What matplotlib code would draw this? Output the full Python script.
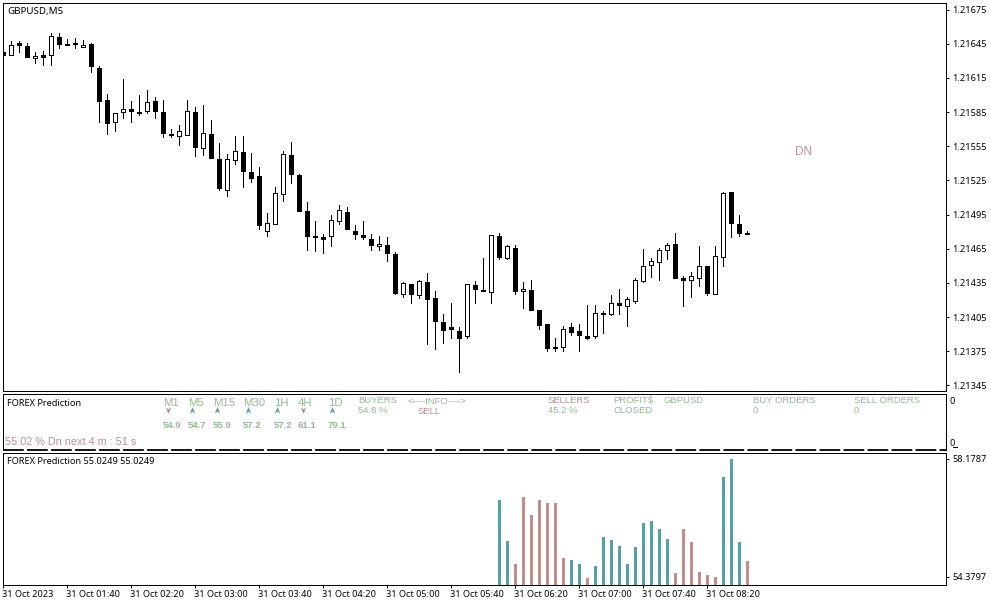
import matplotlib
matplotlib.use('Agg')
import matplotlib.pyplot as plt
from matplotlib.lines import Line2D
from matplotlib.patches import Rectangle
from matplotlib.transforms import ScaledTranslation

plt.rcParams['font.family'] = ['Noto Sans', 'DejaVu Sans']

W, H = 991, 605

# candles, one row per bar, in price points (1/100000)
opens = [121638, 121635, 121646, 121643, 121632, 121635, 121635, 121651, 121645, 121646,
         121642, 121645, 121624, 121596, 121576, 121585, 121588, 121585, 121586, 121595,
         121585, 121566, 121564, 121565, 121585, 121553, 121566, 121544, 121517, 121543,
         121550, 121532, 121529, 121481, 121487, 121513, 121547, 121530, 121498, 121476,
         121475, 121476, 121489, 121497, 121481, 121477, 121474, 121467, 121468, 121460,
         121425, 121434, 121424, 121436, 121422, 121401, 121396, 121393, 121388, 121433,
         121429, 121427, 121476, 121457, 121466, 121428, 121429, 121411, 121399, 121379,
         121379, 121396, 121393, 121388, 121388, 121409, 121408, 121417, 121415, 121419,
         121437, 121451, 121453, 121464, 121469, 121439, 121438, 121439, 121450, 121425,
         121458, 121515, 121487, 121479]
closes = [121635, 121644, 121644, 121633, 121634, 121633, 121652, 121645, 121644, 121645,
          121644, 121625, 121595, 121575, 121584, 121588, 121586, 121584, 121594, 121586,
          121567, 121565, 121568, 121586, 121554, 121567, 121545, 121518, 121544, 121551,
          121533, 121527, 121486, 121488, 121514, 121548, 121531, 121498, 121476, 121475,
          121474, 121490, 121499, 121482, 121478, 121475, 121468, 121469, 121461, 121426,
          121435, 121425, 121437, 121421, 121402, 121394, 121395, 121387, 121434, 121430,
          121428, 121477, 121458, 121467, 121428, 121430, 121411, 121398, 121378, 121378,
          121395, 121392, 121389, 121387, 121409, 121408, 121417, 121416, 121421, 121438,
          121450, 121454, 121464, 121468, 121439, 121438, 121441, 121450, 121426, 121459,
          121514, 121488, 121479, 121478]
highs = [121663, 121647, 121647, 121646, 121638, 121639, 121654, 121654, 121649, 121650,
         121648, 121646, 121625, 121601, 121584, 121614, 121595, 121600, 121604, 121598,
         121596, 121570, 121574, 121596, 121589, 121591, 121578, 121558, 121548, 121564,
         121564, 121549, 121537, 121496, 121519, 121551, 121559, 121531, 121506, 121489,
         121478, 121495, 121503, 121502, 121486, 121489, 121478, 121476, 121475, 121462,
         121436, 121434, 121438, 121444, 121428, 121408, 121417, 121396, 121434, 121437,
         121457, 121477, 121479, 121468, 121468, 121436, 121438, 121411, 121399, 121387,
         121397, 121400, 121399, 121416, 121416, 121410, 121424, 121430, 121423, 121439,
         121465, 121457, 121466, 121470, 121479, 121441, 121445, 121467, 121450, 121467,
         121515, 121515, 121495, 121481]
lows = [121635, 121635, 121638, 121633, 121628, 121626, 121626, 121641, 121644, 121641,
        121642, 121620, 121576, 121566, 121568, 121580, 121576, 121582, 121584, 121580,
        121563, 121563, 121556, 121565, 121546, 121547, 121545, 121517, 121511, 121539,
        121519, 121524, 121482, 121476, 121487, 121507, 121523, 121498, 121464, 121463,
        121461, 121467, 121487, 121482, 121474, 121474, 121464, 121464, 121454, 121425,
        121423, 121417, 121422, 121381, 121377, 121382, 121387, 121357, 121387, 121417,
        121428, 121417, 121456, 121456, 121425, 121413, 121411, 121395, 121375, 121375,
        121375, 121389, 121375, 121386, 121387, 121391, 121407, 121408, 121397, 121417,
        121436, 121440, 121438, 121456, 121439, 121415, 121423, 121432, 121424, 121425,
        121450, 121475, 121476, 121478]

# FOREX Prediction histogram, starts at bar 62
hist_start = 62
hist_values = [56.859, 55.539, 54.798, 56.955, 56.376, 56.859, 56.762, 56.762,
               54.991, 54.927, 54.798, 54.347, 54.734, 55.667, 55.571, 55.378,
               54.798, 55.346, 56.118, 56.183, 55.925, 55.603, 54.508, 55.925,
               55.506, 54.541, 54.444, 54.380, 57.599, 58.179, 55.506, 54.895]
hist_up = [1, 1, 0, 0, 0, 0, 0, 0, 0, 1, 1, 0, 1, 1, 1, 1,
           1, 1, 1, 1, 1, 1, 0, 0, 0, 0, 0, 0, 1, 1, 1, 0]

price_ticks = [1.21675, 1.21645, 1.21615, 1.21585, 1.21555, 1.21525,
               1.21495, 1.21465, 1.21435, 1.21405, 1.21375, 1.21345]
time_labels = ['31 Oct 2023', '31 Oct 01:40', '31 Oct 02:20', '31 Oct 03:00',
               '31 Oct 03:40', '31 Oct 04:20', '31 Oct 05:00', '31 Oct 05:40',
               '31 Oct 06:20', '31 Oct 07:00', '31 Oct 07:40', '31 Oct 08:20']

tf_names = ['M1', 'M5', 'M15', 'M30', '1H', '4H', '1D']
tf_values = ['54.9', '54.7', '55.9', '57.2', '57.2', '61.1', '79.1']
tf_up = [0, 1, 1, 1, 1, 0, 1]

GREEN = '#8FBC8F'
ROSY = '#BC8F8F'
TEAL = '#5F9EA0'
BAR_SPACING = 8
PX = 0.72  # one pixel in points at dpi 100
TEXT_FONT = 'Liberation Sans'
ARROW = [(0, 1), (0.8, -0.9), (0, -0.35), (-0.8, -0.9)]
FIRST_BAR = 3.2


def pane(left, top, right, bottom):
    ax = fig.add_axes([left / W, 1 - bottom / H, (right - left) / W, (bottom - top) / H])
    for s in ax.spines.values():
        s.set_linewidth(PX)
        s.set_color('black')
    # same x scale in every pane
    ax.set_xlim((left - FIRST_BAR) / BAR_SPACING, (right - FIRST_BAR) / BAR_SPACING)
    ax.yaxis.tick_right()
    ax.tick_params(axis='y', length=2.2, width=PX, pad=2.6, labelsize=6.6)
    ax.set_xticks([])
    return ax


def label(x, y, s, color=GREEN, size=6.8, **kw):
    # va center sits about a pixel high for text without descenders
    fig.text(x / W, 1 - (y + 1) / H, s, color=color, fontsize=size, va='center',
             family=kw.pop('family', TEXT_FONT), **kw)


fig = plt.figure(figsize=(W / 100, H / 100), dpi=100)

# price pane
ax = pane(2.5, 2.5, 945.5, 390.5)
to_price = lambda y: 1.21675 - (y - 9.5) * 0.0003 / 34.18
ax.set_ylim(to_price(390.5), to_price(2.5))
ax.set_yticks(price_ticks)
ax.set_yticklabels(['%.5f' % p for p in price_ticks])
for i in range(len(opens)):
    o, c = opens[i] / 1e5, closes[i] / 1e5
    up = c > o
    ax.vlines(i, lows[i] / 1e5, highs[i] / 1e5, color='black', lw=PX, zorder=2, antialiased=False)
    ax.add_patch(Rectangle((i - 2 / BAR_SPACING, min(o, c)), 4 / BAR_SPACING, abs(c - o),
                           facecolor='white' if up else 'black', edgecolor='black', lw=PX,
                           zorder=3, antialiased=False))

# indicator panel with the text block
ax2 = pane(2.5, 393.5, 945.5, 450)
ax2.spines['bottom'].set_visible(False)
ax2.set_ylim(-0.1, 1)
ax2.set_yticks([])
ax2.axhline(-0.1, color='black', lw=1.3, dashes=(11.5, 1.8), clip_on=False)

# histogram pane
ax3 = pane(2.5, 452.5, 945.5, 584.5)
to_val = lambda y: 58.1787 - (y - 459) * 3.799 / 118
ax3.set_ylim(to_val(584.5), to_val(452.5))
ax3.set_yticks([58.1787, 54.3797])
ax3.set_yticklabels(['58.1787', '54.3797'])
xs = [hist_start + i for i in range(len(hist_values))]
cols = [TEAL if u else ROSY for u in hist_up]
ax3.bar(xs, hist_values, width=3 / BAR_SPACING, color=cols, linewidth=0, antialiased=False)
ax3.set_xticks(range(0, 96, 8))
ax3.set_xticklabels(time_labels, ha='left')
ax3.tick_params(axis='x', length=2.2, width=PX, pad=1.5, labelsize=6.6)
for t in ax3.get_xticklabels():
    t.set_transform(t.get_transform() + ScaledTranslation(-1.5 / 100, 0, fig.dpi_scale_trans))

# titles
label(7, 10.5, 'GBPUSD,M5', color='black', size=7, family='Noto Sans')
label(7, 402.7, 'FOREX Prediction', color='black', size=6.6, family='Noto Sans')
label(7, 460.7, 'FOREX Prediction 55.0249 55.0249', color='black', size=6.6, family='Noto Sans')
label(795, 151, 'DN', color=ROSY, size=8.5)

# right axis values of the text panel, the second zero is cut by the pane edge
label(950, 400, '0', color='black', size=6.6, family='Noto Sans')
label(950, 443, '0', color='black', size=6.6, family='Noto Sans')
fig.add_artist(Line2D([953 / W, 957 / W], [1 - 446.5 / H, 1 - 446.5 / H], color='black', lw=PX))

# timeframes
tf_x = [163, 188, 213, 243, 274, 298, 328]
arrow_x = [167.7, 192, 216.7, 248, 276.7, 303, 331.7]
for i in range(len(tf_names)):
    label(tf_x[i], 401.5, tf_names[i], size=8.2)
    label(tf_x[i], 424.7, tf_values[i], size=6.8, fontweight='bold')
    col = TEAL if tf_up[i] else ROSY
    verts = ARROW if tf_up[i] else [(a, -b) for a, b in ARROW]
    fig.add_artist(Line2D([arrow_x[i] / W], [1 - 410 / H], marker=verts, ms=5, color=col,
                          markeredgewidth=0, linestyle='none'))

label(358, 399.7, 'BUYERS')
label(358, 409.7, '54.8 %')
label(408, 400, '<----INFO---->')
label(418, 411, 'SELL', color=ROSY)
label(548, 399.7, 'SELLERS', color=ROSY)
label(548, 409.7, '45.2 %')
label(613, 399.7, 'PROFIT$')
label(613, 409.7, 'CLOSED')
label(663, 399.7, 'GBPUSD')
label(753, 399.7, 'BUY ORDERS')
label(753, 409.7, '0')
label(854, 399.7, 'SELL ORDERS')
label(854, 409.7, '0')
label(5, 441, '55.02 % Dn next 4 m : 51 s', color=ROSY, size=7.8)

fig.savefig('out.png', dpi=100)
